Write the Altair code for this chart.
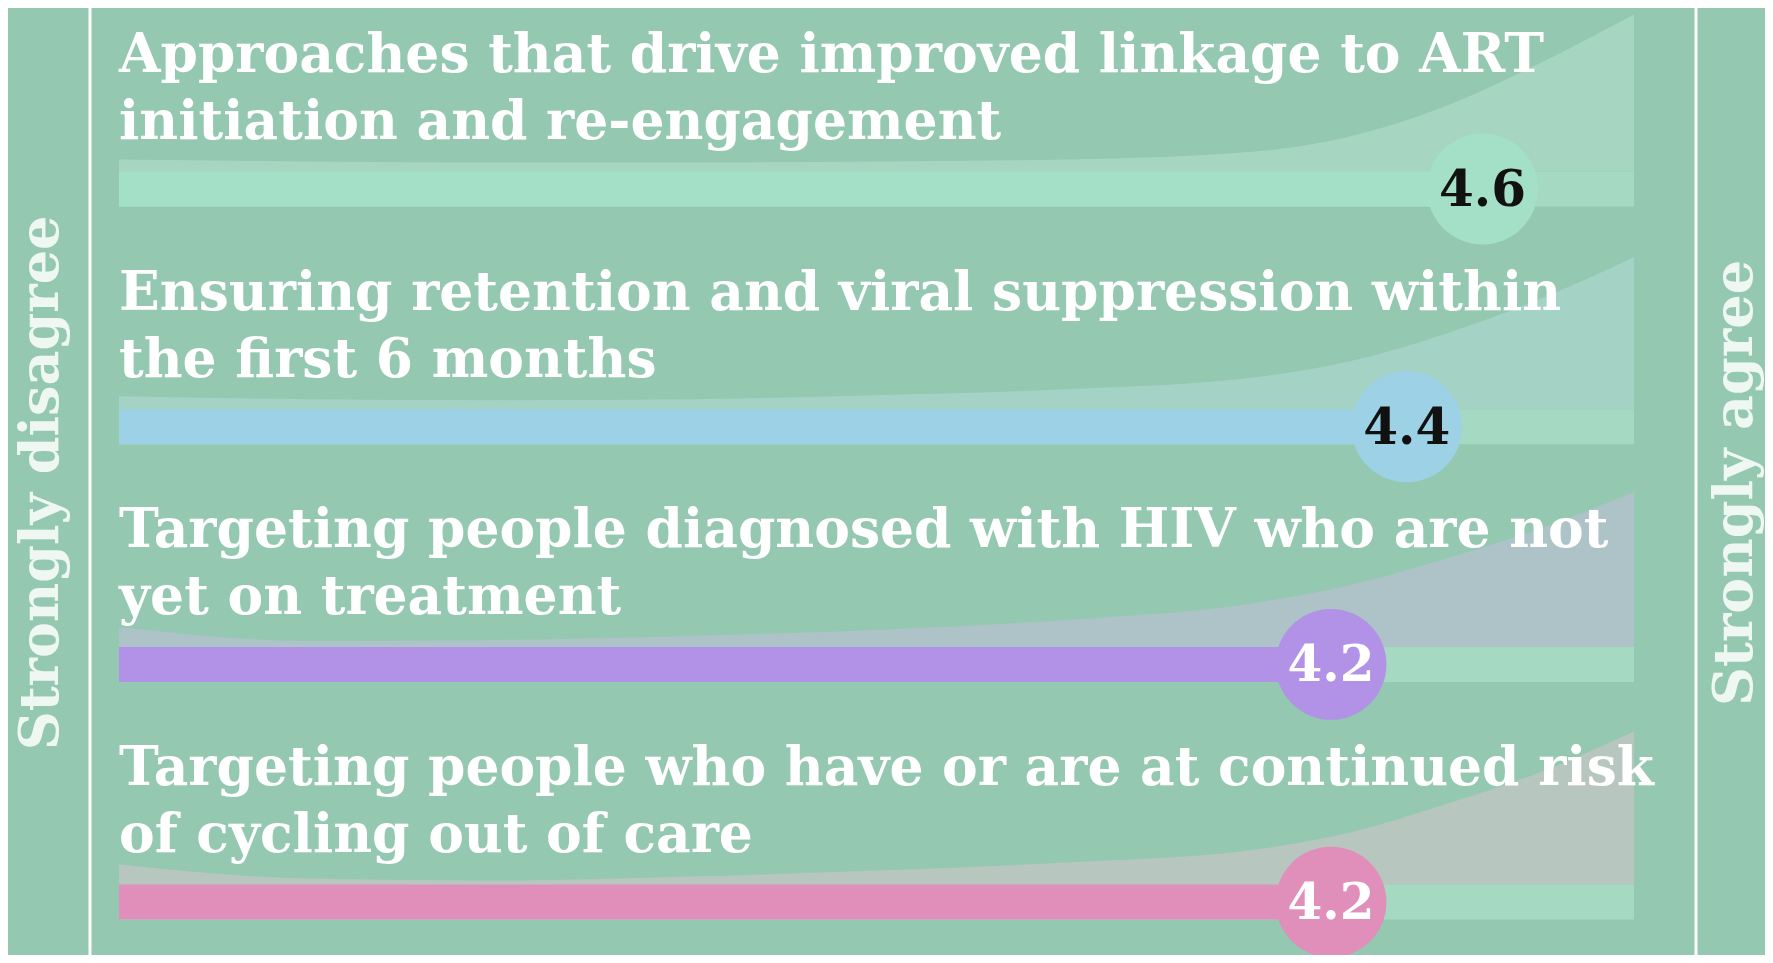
import altair as alt
import pandas as pd

# ---------------- data ----------------
ITEMS = [
    "Approaches that drive improved linkage to ART\ninitiation and re-engagement",
    "Ensuring retention and viral suppression within\nthe first 6 months",
    "Targeting people diagnosed with HIV who are not\nyet on treatment",
    "Targeting people who have or are at continued risk\nof cycling out of care",
]
SCORES = [4.6, 4.4, 4.2, 4.2]
SCORE_LABELS = ["4.6", "4.4", "4.2", "4.2"]
SCALE_MIN, SCALE_MAX = 1, 5
SCALE_ENDS = ["Strongly disagree", "Strongly agree"]

# response-distribution silhouettes (height of the faint area, px)
DIST_X = [1, 1.5, 2, 2.5, 3, 3.5, 4, 4.25, 4.5, 4.75, 5]
DIST_1 = [12, 10, 9, 9, 10, 12, 20, 35, 65, 108, 157]
DIST_2 = [13, 10, 9, 10, 14, 20, 32, 48, 75, 110, 152]
DIST_3 = [20, 6, 7, 11, 17, 27, 44, 62, 88, 118, 155]
DIST_4 = [20, 6, 4, 8, 14, 22, 35, 52, 80, 112, 153]
DISTS = [DIST_1, DIST_2, DIST_3, DIST_4]

# ---------------- style / layout ----------------
W, H = 1757, 947
BG = "#94c8b1"
TRACK = "#a5d9c2"
BAR_COLORS = ["#a4e0c8", "#9dd1e6", "#b292e6", "#e08fbb"]
AREA_COLORS = ["#a6d6c1", "#a4d3c6", "#adc3c8", "#b7c6be"]
LABEL_COLORS = ["#111111", "#111111", "#ffffff", "#ffffff"]
X_DOMAIN = [0.7069, 5.3459]
ROW0, STEP = 181, 237.7
TRACK_HALF = 17.5
TITLE_OFF = 117
RULE_X = [0.9234, 5.1637]
END_X = [0.7960, 5.2704]
END_Y = 475
FONT = "DejaVu Serif"

rows = []
for i, (t, s, lab) in enumerate(zip(ITEMS, SCORES, SCORE_LABELS)):
    c = ROW0 + i * STEP
    rows.append(dict(row=i, title=t, score=s, label=lab, lo=SCALE_MIN, hi=SCALE_MAX,
                     center=c, top=c - TRACK_HALF, bot=c + TRACK_HALF,
                     title_y=c - TITLE_OFF, bar=BAR_COLORS[i], lcol=LABEL_COLORS[i]))
rows_df = pd.DataFrame(rows)

dist = []
for i, d in enumerate(DISTS):
    top = ROW0 + i * STEP - TRACK_HALF
    for v, h in zip(DIST_X, d):
        dist.append(dict(row=i, v=v, ytop=top - h, ybase=top, fill=AREA_COLORS[i]))
dist_df = pd.DataFrame(dist)

ends_df = pd.DataFrame(dict(text=SCALE_ENDS, x=END_X, y=[END_Y, END_Y]))
rules_df = pd.DataFrame(dict(x=RULE_X, y=[0, 0], y2=[H, H]))

xs = alt.Scale(domain=X_DOMAIN, nice=False, zero=False)
ys = alt.Scale(domain=[H, 0], nice=False, zero=False)

area = alt.Chart(dist_df).mark_area(interpolate="monotone", opacity=1).encode(
    x=alt.X("v:Q", scale=xs, axis=None),
    y=alt.Y("ytop:Q", scale=ys, axis=None),
    y2="ybase:Q",
    fill=alt.Fill("fill:N", scale=None),
    detail="row:N",
)

base = alt.Chart(rows_df)
track = base.mark_rect(color=TRACK).encode(
    x=alt.X("lo:Q", scale=xs, axis=None), x2="hi:Q",
    y=alt.Y("top:Q", scale=ys, axis=None), y2="bot:Q",
)
bar = base.mark_rect().encode(
    x=alt.X("lo:Q", scale=xs, axis=None), x2="score:Q",
    y=alt.Y("top:Q", scale=ys, axis=None), y2="bot:Q",
    fill=alt.Fill("bar:N", scale=None),
)
dot = base.mark_circle(size=12300, opacity=1).encode(
    x=alt.X("score:Q", scale=xs, axis=None),
    y=alt.Y("center:Q", scale=ys, axis=None),
    fill=alt.Fill("bar:N", scale=None),
)
val = base.mark_text(font=FONT, fontWeight="bold", fontSize=50, align="center",
                     baseline="middle", dy=2).encode(
    x=alt.X("score:Q", scale=xs, axis=None),
    y=alt.Y("center:Q", scale=ys, axis=None),
    text="label:N",
    fill=alt.Fill("lcol:N", scale=None),
)
titles = base.mark_text(font=FONT, fontWeight="bold", fontSize=53.5, align="left",
                        baseline="alphabetic", lineBreak="\n", lineHeight=67,
                        color="#ffffff").encode(
    x=alt.X("lo:Q", scale=xs, axis=None),
    y=alt.Y("title_y:Q", scale=ys, axis=None),
    text="title:N",
)
rules = alt.Chart(rules_df).mark_rule(color="#ffffff", strokeWidth=3).encode(
    x=alt.X("x:Q", scale=xs, axis=None),
    y=alt.Y("y:Q", scale=ys, axis=None), y2="y2:Q",
)
ends = alt.Chart(ends_df).mark_text(font=FONT, fontWeight="bold", fontSize=54, angle=270,
                                    align="center", baseline="middle",
                                    color="#eef7f2").encode(
    x=alt.X("x:Q", scale=xs, axis=None),
    y=alt.Y("y:Q", scale=ys, axis=None),
    text="text:N",
)

chart = alt.layer(area, track, bar, dot, val, titles, rules, ends).properties(
    width=W, height=H, background=BG, padding=0,
    autosize=alt.AutoSizeParams(type="none"),
).configure_view(stroke=None)

chart.save("out.html", embed_options={"renderer": "svg", "actions": False})
